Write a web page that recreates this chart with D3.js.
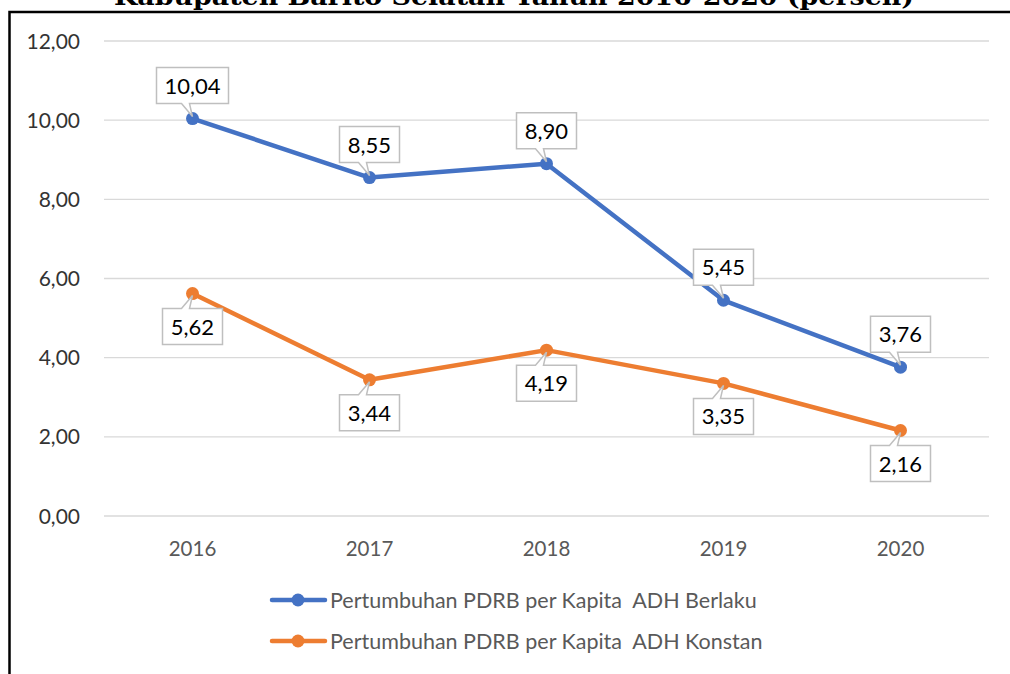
<!DOCTYPE html>
<html>
<head>
<meta charset="utf-8">
<script src="https://cdn.jsdelivr.net/npm/d3@7"></script>
<style>
  body { margin: 0; background: #fff; }
  svg { display: block; }
</style>
</head>
<body>
<div id="chart"></div>
<script>
var years = ["2016", "2017", "2018", "2019", "2020"];
var berlaku = [10.04, 8.55, 8.90, 5.45, 3.76];
var konstan = [5.62, 3.44, 4.19, 3.35, 2.16];
var yTicks = [0, 2, 4, 6, 8, 10, 12];
var seriesNames = ["Pertumbuhan PDRB per Kapita  ADH Berlaku", "Pertumbuhan PDRB per Kapita  ADH Konstan"];
var seriesColors = ["#4472C4", "#ED7D31"];
// label above (-1) or below (+1) the point
var labelSide = [[-1, -1, -1, -1, -1], [1, 1, 1, 1, 1]];

var width = 1010, height = 674;
var svg = d3.select("#chart").append("svg")
  .attr("width", width).attr("height", height);

var fmt = function(v) { return d3.format(".2f")(v).replace(".", ","); };

// title (cut off at top, like the source)
svg.append("text")
  .attr("x", 514).attr("y", 5)
  .attr("text-anchor", "middle")
  .attr("font-family", "DejaVu Serif")
  .attr("font-weight", "bold")
  .attr("font-size", "24px")
  .attr("textLength", 800)
  .attr("lengthAdjust", "spacingAndGlyphs")
  .text("Kabupaten Barito Selatan Tahun 2016-2020 (persen)");

// frame
svg.append("path")
  .attr("d", "M9.5,674 L9.5,12 L1010,12")
  .attr("fill", "none").attr("stroke", "#000").attr("stroke-width", 2.5);

var x = d3.scaleBand().domain(years).range([104, 989]);
var y = d3.scaleLinear().domain([0, 12]).range([516, 41]);

// gridlines
svg.append("g").selectAll("line")
  .data(yTicks).enter().append("line")
  .attr("x1", 104).attr("x2", 989)
  .attr("y1", function(d) { return y(d); })
  .attr("y2", function(d) { return y(d); })
  .attr("stroke", "#d9d9d9").attr("stroke-width", 1.3);

// y labels
svg.append("g").selectAll("text")
  .data(yTicks).enter().append("text")
  .attr("x", 80).attr("y", function(d) { return y(d) + 7.5; })
  .attr("text-anchor", "end")
  .attr("font-family", "Lato, 'Open Sans', sans-serif")
  .attr("font-size", "21px")
  .attr("fill", "#333")
  .text(fmt);

// x labels
svg.append("g").selectAll("text")
  .data(years).enter().append("text")
  .attr("x", function(d) { return x(d) + x.bandwidth() / 2; })
  .attr("y", 556)
  .attr("text-anchor", "middle")
  .attr("font-family", "Lato, 'Open Sans', sans-serif")
  .attr("font-size", "20.5px")
  .attr("fill", "#595959")
  .text(function(d) { return d; });

var cx = function(i) { return x(years[i]) + x.bandwidth() / 2; };

var line = d3.line()
  .x(function(d, i) { return cx(i); })
  .y(function(d) { return y(d); });

[berlaku, konstan].forEach(function(vals, s) {
  svg.append("path")
    .datum(vals)
    .attr("d", line)
    .attr("fill", "none")
    .attr("stroke", seriesColors[s])
    .attr("stroke-width", 4.5)
    .attr("stroke-linejoin", "round");

  svg.append("g").selectAll("circle")
    .data(vals).enter().append("circle")
    .attr("cx", function(d, i) { return cx(i); })
    .attr("cy", function(d) { return y(d); })
    .attr("r", 6.5)
    .attr("fill", seriesColors[s]);
});

// callout labels
var bw = 60, bh = 36, gap = 15;
[berlaku, konstan].forEach(function(vals, s) {
  var g = svg.append("g");
  vals.forEach(function(v, i) {
    var px = cx(i), py = y(v), side = labelSide[s][i];
    var w = v >= 10 ? 72 : bw;
    var left = px - w / 2, right = px + w / 2;
    var top, bottom, d;
    if (side < 0) {
      bottom = py - gap; top = bottom - bh;
      d = "M" + left + "," + top + " L" + right + "," + top + " L" + right + "," + bottom +
        " L" + (px - 3) + "," + bottom + " L" + px + "," + (py - 2) + " L" + (px - 11) + "," + bottom +
        " L" + left + "," + bottom + " Z";
    } else {
      top = py + gap; bottom = top + bh;
      d = "M" + left + "," + top + " L" + (px - 11) + "," + top + " L" + px + "," + (py + 2) +
        " L" + (px - 3) + "," + top + " L" + right + "," + top + " L" + right + "," + bottom +
        " L" + left + "," + bottom + " Z";
    }
    g.append("path").attr("d", d)
      .attr("fill", "#fff").attr("stroke", "#bfbfbf").attr("stroke-width", 1.5);
    g.append("text")
      .attr("x", px).attr("y", top + bh / 2 + 8)
      .attr("text-anchor", "middle")
      .attr("font-family", "Lato, 'Open Sans', sans-serif")
      .attr("font-size", "22px")
      .attr("fill", "#000")
      .text(fmt(v));
  });
});

// legend
seriesNames.forEach(function(name, s) {
  var ly = 600 + s * 41;
  var g = svg.append("g");
  g.append("line")
    .attr("x1", 272).attr("x2", 325).attr("y1", ly).attr("y2", ly)
    .attr("stroke", seriesColors[s]).attr("stroke-width", 4.5)
    .attr("stroke-linecap", "round");
  g.append("circle").attr("cx", 298).attr("cy", ly).attr("r", 6.5)
    .attr("fill", seriesColors[s]);
  g.append("text")
    .attr("x", 330).attr("y", ly + 7.5)
    .attr("font-family", "Lato, 'Open Sans', sans-serif")
    .attr("font-size", "21.5px")
    .attr("fill", "#595959")
    .attr("xml:space", "preserve")
    .style("white-space", "pre")
    .text(name);
});
</script>
</body>
</html>
